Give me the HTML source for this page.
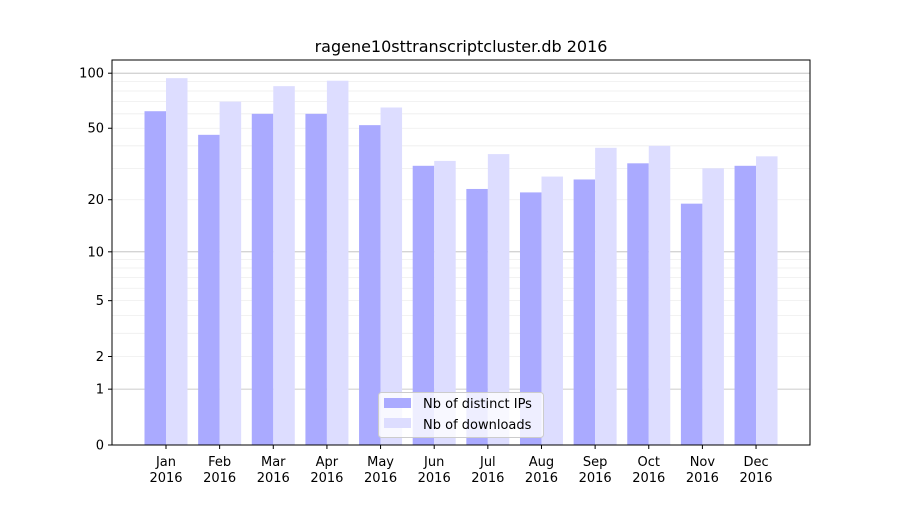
<!DOCTYPE html><html><head><meta charset="utf-8"><style>body{margin:0;background:#fff}svg{font-family:"DejaVu Sans","Liberation Sans",sans-serif}</style></head><body>
<svg id="s" width="900" height="500" xmlns="http://www.w3.org/2000/svg">
<rect width="900" height="500" fill="#fff"/>
<g id="grid"></g><g id="bars"></g>
<rect x="112" y="60" width="698" height="385" fill="none" stroke="#000" stroke-width="1"/>
<g id="ticks" font-size="13" fill="#000"></g>
<text x="461" y="52" font-size="16" text-anchor="middle">ragene10sttranscriptcluster.db 2016</text>
<g>
<rect x="378.5" y="392.5" width="165" height="45" rx="3" fill="#fff" fill-opacity="0.8" stroke="#ccc"/>
<rect x="384" y="398" width="27" height="10" fill="#aaaaff"/>
<rect x="384" y="418" width="27" height="10" fill="#ddddff"/>
<text x="423" y="408" font-size="13">Nb of distinct IPs</text>
<text x="423" y="429" font-size="13">Nb of downloads</text>
</g>
</svg>
<script>
var Y=function(v){return 445-185.5*Math.log10(1+v)};
var ns="http://www.w3.org/2000/svg";
function el(p,t,a,txt){var e=document.createElementNS(ns,t);for(var k in a)e.setAttribute(k,a[k]);if(txt!=null)e.textContent=txt;document.getElementById(p).appendChild(e);}
var minor=[2,3,4,5,6,7,8,9,20,30,40,50,60,70,80,90];
minor.forEach(function(v){var y=Y(v);el("grid","line",{x1:112,x2:810,y1:y,y2:y,stroke:"#eee","stroke-width":0.8});});
[1,10,100].forEach(function(v){var y=Y(v);el("grid","line",{x1:112,x2:810,y1:y,y2:y,stroke:"#bbb","stroke-width":0.8});});
[0,1,2,5,10,20,50,100].forEach(function(v){var y=Y(v);el("ticks","line",{x1:108,x2:112,y1:y,y2:y,stroke:"#000"});el("ticks","text",{x:104,y:y+4.5,"text-anchor":"end"},v);});
var ip=[62,46,60,60,52,31,23,22,26,32,19,31],dl=[94,70,85,91,65,33,36,27,39,40,30,35];
var m=["Jan","Feb","Mar","Apr","May","Jun","Jul","Aug","Sep","Oct","Nov","Dec"];
for(var i=0;i<12;i++){var c=166+i*53.64;
el("bars","rect",{x:c-21.5,y:Y(ip[i]),width:21.5,height:445-Y(ip[i]),fill:"#aaaaff"});
el("bars","rect",{x:c,y:Y(dl[i]),width:21.5,height:445-Y(dl[i]),fill:"#ddddff"});
el("ticks","line",{x1:c,x2:c,y1:445,y2:449,stroke:"#000"});
el("ticks","text",{x:c,y:466,"text-anchor":"middle"},m[i]);
el("ticks","text",{x:c,y:482,"text-anchor":"middle"},"2016");}
</script>
</body></html>
